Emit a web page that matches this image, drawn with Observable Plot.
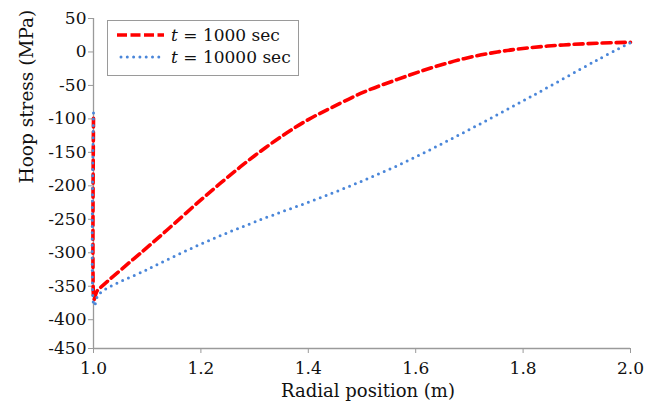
<!DOCTYPE html>
<html>
<head>
<meta charset="utf-8">
<script src="https://cdn.jsdelivr.net/npm/d3@7"></script>
<script src="https://cdn.jsdelivr.net/npm/@observablehq/plot@0.6"></script>
<style>
  html, body { margin: 0; padding: 0; background: #fff; }
  #chart { position: relative; width: 657px; height: 405px; }
</style>
</head>
<body>
<div id="chart"></div>
<script>
// Series: t = 1000 sec
const r1000 = [1.0, 1.0, 1.001, 1.006, 1.013, 1.075, 1.1, 1.137, 1.2, 1.25, 1.3, 1.354, 1.4, 1.441, 1.503, 1.566, 1.628, 1.69, 1.752, 1.814, 1.875, 1.937, 2.0];
const s1000 = [-99, -366, -370, -358, -352, -309, -292, -266, -221, -187, -155, -124, -101, -84, -60, -41, -24, -10, 0, 6.5, 10.5, 13, 14.5];
// Series: t = 10000 sec
const r10000 = [1.0, 1.0, 1.002, 1.01, 1.1, 1.2, 1.3, 1.441, 1.5655, 1.69, 1.814, 1.938, 2.0];
const s10000 = [-91, -376, -379, -362, -325, -287, -254, -212, -170, -120, -67, -12, 14];

const seriesNames = ["t = 1000 sec", "t = 10000 sec"];
const xTicks = [1.0, 1.2, 1.4, 1.6, 1.8, 2.0];
const yBottom = -443;
const yTickValues = [50, 0, -50, -100, -150, -200, -250, -300, -350, -400, yBottom];
const yTickLabels = ["50", "0", "-50", "-100", "-150", "-200", "-250", "-300", "-350", "-400", "-450"];
const xTitle = "Radial position (m)";
const yTitle = "Hoop stress (MPa)";

const d1000 = r1000.map((r, i) => ({r, s: s1000[i]}));
const d10000 = r10000.map((r, i) => ({r, s: s10000[i]}));

const RED = "#ff0000";
const BLUE = "#4a86d9";
const AXIS = "#9a9a9a";

const plot = Plot.plot({
  width: 657,
  height: 405,
  marginLeft: 93,
  marginRight: 27,
  marginTop: 18,
  marginBottom: 57,
  x: {domain: [1, 2]},
  y: {domain: [yBottom, 50]},
  style: {fontFamily: "DejaVu Serif", fontSize: "17px", color: "#111", background: "white"},
  marks: [
    Plot.axisX({ticks: xTicks, tickFormat: d => d.toFixed(1), tickSize: 5, tickPadding: 8, stroke: AXIS, label: null}),
    Plot.axisY({ticks: yTickValues, tickFormat: d => yTickLabels[yTickValues.indexOf(d)], tickSize: 5, tickPadding: 2, stroke: AXIS, label: null}),
    Plot.ruleY([yBottom], {stroke: AXIS, strokeWidth: 1.3}),
    Plot.ruleX([1], {stroke: AXIS, strokeWidth: 1.3}),
    Plot.line(d1000, {x: "r", y: "s", stroke: RED, strokeWidth: 3.6, strokeDasharray: "9,5", curve: "catmull-rom"}),
    Plot.line(d10000, {x: "r", y: "s", stroke: BLUE, strokeWidth: 3, strokeDasharray: "0,6.3", strokeLinecap: "round", curve: "catmull-rom"}),
    Plot.text([xTitle], {frameAnchor: "bottom", dy: 48, dx: 6, fontSize: 18, fill: "#111"}),
    Plot.text([yTitle], {frameAnchor: "left", dx: -66, rotate: -90, fontSize: 18.5, fill: "#111"})
  ]
});

// Legend inside plot area
const svg = d3.select(plot);
const g = svg.append("g").attr("font-family", "DejaVu Serif").attr("font-size", 17).attr("fill", "#111").attr("text-anchor", "start");
g.append("rect").attr("x", 107.5).attr("y", 20.5).attr("width", 191).attr("height", 55)
  .attr("fill", "white").attr("stroke", AXIS).attr("stroke-width", 1);
const entries = [
  {name: seriesNames[0], color: RED, dash: "10,3.5", w: 3.6, cap: "butt", x1: 117, x2: 164},
  {name: seriesNames[1], color: BLUE, dash: "0,6.3", w: 3, cap: "round", x1: 121, x2: 163}
];
entries.forEach((e, i) => {
  const y = 35 + i * 22;
  g.append("line").attr("x1", e.x1).attr("x2", e.x2).attr("y1", y).attr("y2", y)
    .attr("stroke", e.color).attr("stroke-width", e.w).attr("stroke-dasharray", e.dash).attr("stroke-linecap", e.cap);
  const parts = e.name.split(" ");
  const t = g.append("text").attr("x", 171).attr("y", y).attr("dy", "0.35em").attr("text-anchor", "start");
  t.append("tspan").attr("font-style", "italic").text(parts[0]);
  t.append("tspan").text(" " + parts.slice(1).join(" "));
});

document.getElementById("chart").appendChild(plot);
</script>
</body>
</html>
